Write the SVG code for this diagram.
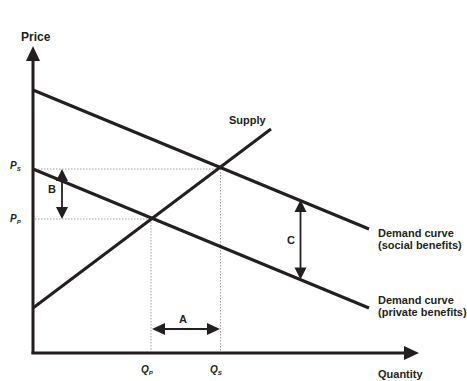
<svg xmlns="http://www.w3.org/2000/svg" width="467" height="381" viewBox="0 0 467 381">
<style>
.ax{stroke:#231f20;stroke-width:3;fill:none}
.ln{stroke:#231f20;stroke-width:3;fill:none;stroke-linecap:butt}
.dot{stroke:#8a8a8a;stroke-width:0.8;stroke-dasharray:1.5 1.5;fill:none}
.ar{stroke:#231f20;stroke-width:1.8;fill:none}
.hd{fill:#231f20}
text{font-family:"Liberation Sans",Arial,sans-serif;font-weight:bold;fill:#231f20}
.lb{font-size:11px}
.sy{font-size:10px;font-style:italic}
.sb{font-size:6px;font-style:italic}
</style>
<rect width="467" height="381" fill="#ffffff"/>
<g id="axes">
<line class="ax" x1="33" y1="58" x2="33" y2="354"/>
<polygon class="hd" points="33,46 26,61 40,61"/>
<line class="ax" x1="31.5" y1="353" x2="406" y2="353"/>
<polygon class="hd" points="419,353 404,346 404,360"/>
<text x="21" y="41" style="font-size:12px">Price</text>
<text class="lb" x="378" y="378">Quantity</text>
</g>
<g id="guides">
<line class="dot" x1="35" y1="169" x2="220" y2="169"/>
<line class="dot" x1="35" y1="219" x2="151" y2="219"/>
<line class="dot" x1="151" y1="219" x2="151" y2="351"/>
<line class="dot" x1="220.5" y1="169" x2="220.5" y2="351"/>
</g>
<g id="connectors">
<g id="demand-social"><line class="ln" x1="33" y1="90" x2="369" y2="229"/></g>
<g id="demand-private"><line class="ln" x1="33" y1="169" x2="369" y2="308"/></g>
<g id="supply"><line class="ln" x1="33" y1="308" x2="271" y2="129"/></g>
<g id="arrow-B">
<line class="ar" x1="62" y1="180" x2="62" y2="208"/>
<polygon class="hd" points="62,169 56,181 68,181"/>
<polygon class="hd" points="62,219 56,207 68,207"/>
</g>
<g id="arrow-A">
<line class="ar" x1="162" y1="329" x2="210" y2="329"/>
<polygon class="hd" points="152,329 165,323 165,335"/>
<polygon class="hd" points="220,329 207,323 207,335"/>
</g>
<g id="arrow-C">
<line class="ar" x1="300.5" y1="211" x2="300.5" y2="268"/>
<polygon class="hd" points="300.5,200 294.5,212 306.5,212"/>
<polygon class="hd" points="300.5,279.5 294.5,267.5 306.5,267.5"/>
</g>
</g>
<g id="labels">
<text class="lb" x="229" y="124">Supply</text>
<text class="lb" x="378" y="237">Demand curve</text>
<text class="lb" x="378" y="248.5">(social benefits)</text>
<text class="lb" x="378" y="304">Demand curve</text>
<text class="lb" x="378" y="315.5">(private benefits)</text>
<text class="lb" x="48" y="193">B</text>
<text class="lb" x="179" y="323">A</text>
<text class="lb" x="287" y="244">C</text>
<text class="sy" x="10" y="169">P<tspan class="sb" dy="2">S</tspan></text>
<text class="sy" x="10" y="222">P<tspan class="sb" dy="2">P</tspan></text>
<text class="sy" x="141" y="373">Q<tspan class="sb" dy="2">P</tspan></text>
<text class="sy" x="210" y="373">Q<tspan class="sb" dy="2">S</tspan></text>
</g>
</svg>
